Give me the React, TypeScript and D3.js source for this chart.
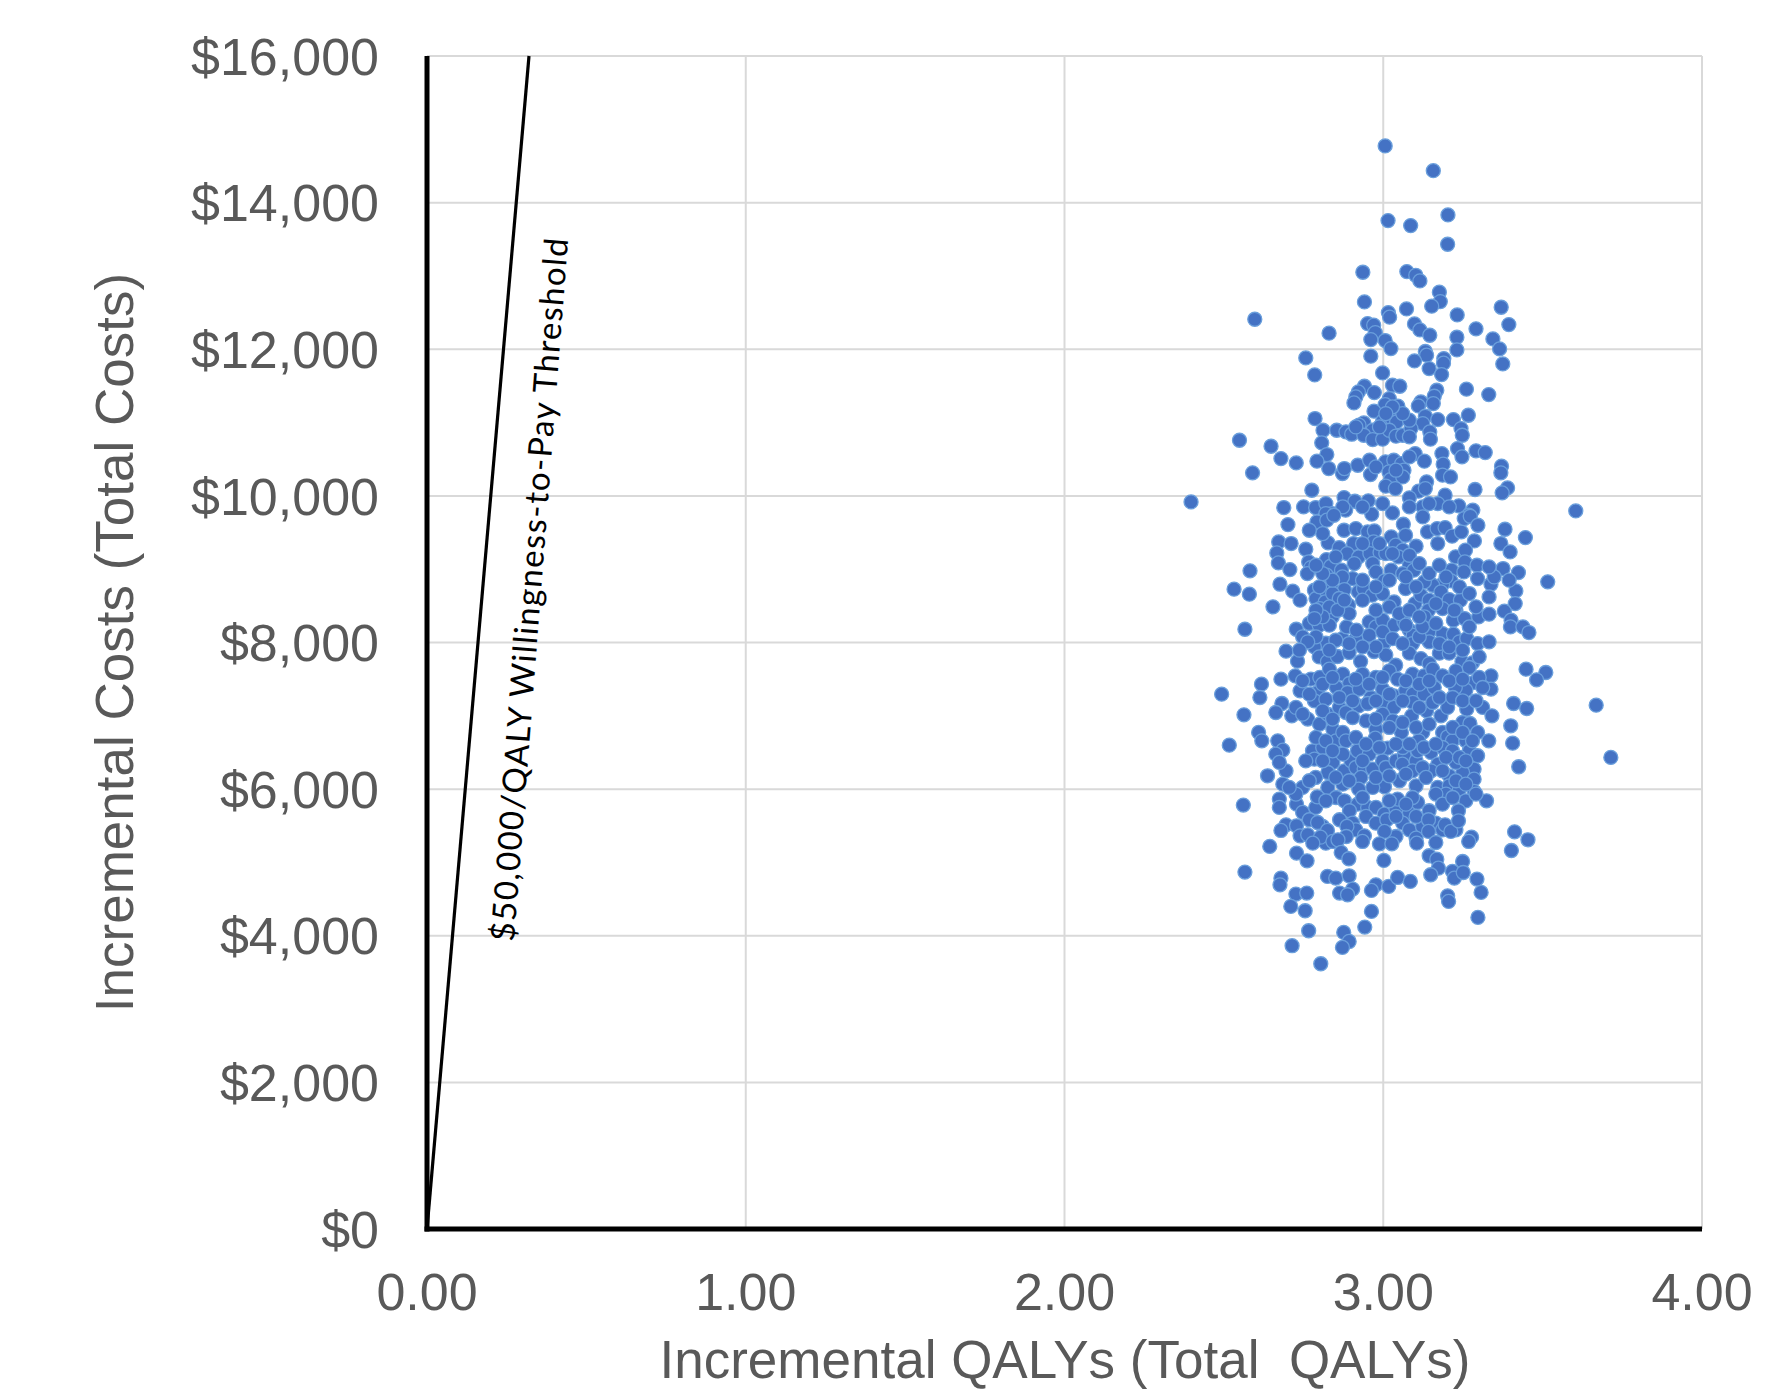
import React from 'react';
import * as d3 from 'd3';

// ---- Data (incremental QALYs, incremental cost in $) ----
const drawsAbove11800: [number, number][] = [
  [3.006,14773],[3.157,14436],[3.203,13832],[3.015,13755],[3.086,13687],[3.202,13432],[2.936,13050],[3.074,13059],
  [3.102,13009],[3.115,12932],[3.176,12778],[3.179,12650],[2.941,12646],[3.152,12587],[3.073,12550],[3.016,12500],
  [3.020,12437],[3.370,12573],[3.232,12468],[2.597,12409],[3.394,12337],[2.951,12350],[2.970,12328],[3.098,12346],
  [3.115,12264],[3.291,12278],[3.146,12191],[2.830,12219],[2.975,12228],[2.961,12132],[3.006,12119],[3.231,12164],
  [3.344,12141],[3.024,12009],[3.231,11991],[3.365,12005],[3.132,11969],[3.136,11919],[2.757,11882],[2.961,11905],
  [3.190,11873],[3.098,11841],[3.375,11800],[3.189,11810],
];

const draws9700to11800: [number, number][] = [
  [3.144,11736],[3.183,11655],[2.785,11650],[2.998,11677],[3.029,11509],[3.052,11495],[2.941,11495],[2.922,11418],
  [2.972,11409],[2.914,11350],[2.908,11268],[3.168,11441],[3.160,11359],[3.261,11455],[3.331,11382],[3.019,11327],
  [3.006,11245],[3.046,11223],[3.118,11282],[3.110,11227],[3.157,11259],[2.971,11155],[3.132,11086],[3.171,11041],
  [3.267,11100],[3.220,11041],[2.786,11055],[2.998,11018],[3.029,11041],[3.042,11009],[2.939,10995],[2.924,10964],
  [3.124,10986],[3.244,10918],[2.811,10895],[2.854,10895],[2.883,10873],[2.901,10841],[2.967,10895],[2.939,10827],
  [2.967,10768],[2.998,10773],[3.019,10895],[3.040,10814],[3.061,10827],[3.087,10918],[3.082,10805],[3.146,10873],
  [3.148,10773],[3.248,10827],[2.549,10759],[2.648,10677],[2.807,10723],[2.823,10564],[2.679,10509],[2.727,10450],
  [2.590,10314],[2.792,10473],[2.829,10373],[2.872,10305],[2.878,10373],[2.920,10418],[2.957,10486],[2.960,10291],
  [3.007,10464],[3.033,10486],[3.058,10441],[3.065,10350],[3.018,10327],[3.023,10223],[3.061,10259],[3.008,10132],
  [3.038,10100],[3.100,10577],[3.129,10473],[3.184,10577],[3.188,10432],[3.186,10282],[3.211,10259],[3.233,10645],
  [3.247,10532],[3.291,10614],[3.320,10591],[3.371,10405],[3.369,10314],[3.136,10191],[3.111,10064],[3.082,9973],
  [3.132,10100],[3.194,10009],[3.288,10087],[3.390,10109],[3.373,10041],[2.776,10077],[2.397,9918],[2.688,9841],
  [2.750,9850],[2.788,9841],[2.820,9895],[2.877,9977],[2.911,9927],[2.953,9932],[2.840,9759],[2.882,9805],
  [2.964,9750],[3.029,9768],[3.124,9850],[3.171,9895],[3.237,9864],[3.281,9805],[3.268,9736],[3.604,9795],
  [2.988,10941],[3.082,11032],[3.061,11123],[3.029,11214],[3.008,11123],[2.977,10395],[3.040,10350],[3.082,10532],
  [2.914,10941],[2.873,9850],[2.935,9850],[2.998,9895],[3.082,9850],[3.144,9895],[3.207,9850],[2.820,9759],
];

const draws7700to9700: [number, number][] = [
  [3.124,9713],[2.701,9609],[2.792,9645],[2.823,9668],[2.845,9736],[2.877,9531],[2.914,9554],[2.951,9509],
  [2.972,9522],[2.970,9372],[3.063,9613],[3.025,9440],[3.070,9463],[3.139,9509],[3.169,9554],[3.194,9568],
  [3.171,9350],[3.216,9450],[3.245,9509],[3.254,9690],[3.273,9722],[3.297,9599],[3.286,9386],[3.382,9545],
  [3.369,9350],[3.398,9236],[3.446,9431],[2.672,9372],[2.711,9350],[2.757,9272],[2.666,9222],[2.671,9086],
  [2.707,8995],[2.582,8977],[2.766,9099],[2.773,9022],[2.762,8940],[2.827,9359],[2.862,9295],[2.907,9350],
  [2.887,9213],[2.923,9168],[2.909,9077],[2.822,9131],[2.835,9040],[2.869,8986],[2.822,8918],[2.904,8872],
  [2.872,8895],[2.958,9213],[2.990,9227],[3.008,9213],[3.039,9327],[3.061,9259],[3.048,9168],[3.103,9313],
  [3.082,9054],[2.967,9077],[2.977,8963],[3.025,8986],[3.004,8840],[3.061,8940],[3.096,8986],[3.227,9168],
  [3.258,9259],[3.256,9099],[3.215,8986],[3.253,8963],[3.294,9054],[3.296,8872],[3.347,8963],[3.376,9009],
  [3.424,8954],[3.338,8795],[3.516,8827],[3.213,8840],[3.186,8795],[3.155,8781],[3.129,8827],[3.070,8736],
  [2.532,8727],[2.580,8659],[2.676,8795],[2.716,8700],[2.739,8577],[2.654,8486],[2.784,8713],[2.789,8600],
  [2.820,8713],[2.851,8690],[2.878,8722],[2.818,8554],[2.801,8463],[2.872,8486],[2.891,8509],[2.840,8350],
  [2.922,8690],[2.938,8736],[2.965,8645],[2.998,8668],[3.034,8554],[3.100,8531],[3.118,8645],[3.144,8577],
  [3.142,8440],[3.129,8350],[3.181,8690],[3.207,8586],[3.242,8577],[3.186,8463],[3.228,8440],[3.220,8304],
  [3.255,8327],[3.416,8704],[3.414,8531],[3.299,8350],[3.332,8386],[3.380,8427],[3.401,8304],[3.399,8213],
  [3.438,8213],[3.457,8136],[2.566,8181],[2.727,8181],[2.747,8077],[2.768,8259],[2.799,8236],[2.831,8236],
  [2.872,8054],[2.885,8213],[2.914,8054],[2.820,7990],[2.956,8281],[2.977,8213],[2.998,8304],[2.956,8099],
  [3.003,7995],[3.034,8236],[3.065,8281],[3.082,8168],[3.094,8099],[3.092,7986],[3.144,8145],[3.144,8009],
  [3.186,8122],[3.220,8113],[3.239,8009],[3.262,8054],[3.296,7986],[3.332,8009],[2.695,7882],[2.731,7745],
  [2.784,7941],[2.799,7804],[2.825,7740],[2.856,7809],[2.893,7863],[2.929,7740],[2.971,7877],[3.008,7831],
  [3.039,7690],[3.082,7854],[3.118,7781],[3.144,7713],[3.176,7854],[3.207,7854],[3.247,7740],[3.280,7722],
  [3.301,7804],
];

const drawsDenseCoreUpper: [number, number][] = [
  [2.841,8668],[2.862,8600],[2.831,8486],[2.893,8395],[2.857,8440],[2.878,8577],[2.810,8350],[2.789,8440],
  [2.784,8327],[2.935,8577],[2.977,8440],[3.019,8486],[3.050,8395],[3.071,8236],[2.998,8145],[3.029,8054],
  [2.977,7940],[2.935,7940],[2.893,7986],[2.851,8031],[2.789,8077],[2.763,8009],[2.737,7895],[2.831,7895],
  [2.916,8168],[3.061,7986],[3.113,8077],[3.123,8213],[3.165,8259],[3.176,7986],[3.207,7940],[3.249,7895],
  [3.270,8213],[3.223,8440],[3.165,8531],[3.082,8440],[3.113,8350],[3.103,8759],[3.071,8895],[3.019,8850],
  [2.977,8759],[2.935,8850],[2.841,8850],[2.800,8759],[2.810,8940],[2.789,9054],[2.851,9168],[2.988,9350],
  [3.029,9213],[3.082,9190],[3.113,9077],[3.144,8940],[3.176,9054],[3.197,8895],[3.239,8759],[3.270,8668],
  [3.291,8486],[3.332,8622],[3.348,8895],[3.395,8850],[3.332,9031],[2.935,9350],[2.810,9486],[2.768,9531],
];

const draws5600to7700: [number, number][] = [
  [3.448,7636],[3.510,7591],[3.481,7491],[3.668,7145],[3.714,6432],[2.493,7295],[2.618,7432],[2.613,7250],
  [2.679,7500],[2.724,7545],[2.773,7500],[2.801,7523],[2.831,7636],[2.873,7568],[2.894,7441],[2.935,7568],
  [2.977,7523],[3.019,7614],[3.045,7500],[3.092,7568],[3.128,7545],[3.155,7636],[3.186,7545],[3.228,7614],
  [3.270,7659],[3.338,7545],[3.338,7364],[3.285,7455],[3.259,7350],[3.226,7386],[2.739,7341],[2.794,7318],
  [2.853,7386],[2.888,7318],[2.925,7364],[2.961,7250],[2.998,7364],[3.033,7273],[3.070,7341],[3.093,7295],
  [3.128,7295],[3.160,7386],[2.682,7168],[2.663,7045],[2.713,7000],[2.763,6955],[2.800,6886],[2.784,7205],
  [2.825,7023],[2.862,7114],[2.883,7045],[2.923,7136],[2.951,7168],[2.998,7159],[3.033,7114],[2.946,6932],
  [2.998,7023],[3.030,6932],[3.093,7182],[3.089,7000],[3.136,7068],[3.155,7182],[3.181,7000],[3.202,7114],
  [3.262,7091],[3.312,7114],[3.341,7000],[3.249,6909],[3.272,6895],[3.409,7168],[3.450,7100],[3.400,6864],
  [3.406,6627],[3.425,6305],[2.563,7014],[2.609,6773],[2.619,6659],[2.517,6600],[2.669,6659],[2.685,6532],
  [2.663,6477],[2.695,6250],[2.674,6364],[2.637,6182],[2.685,6068],[2.842,6818],[2.852,6659],[2.873,6773],
  [2.778,6523],[2.784,6409],[2.810,6568],[2.842,6364],[2.826,6227],[2.788,6159],[2.757,6386],[2.878,6250],
  [2.899,6386],[2.919,6523],[2.914,6295],[2.940,6273],[2.930,6159],[2.967,6273],[2.977,6818],[2.975,6695],
  [3.014,6559],[2.956,6477],[2.998,6386],[3.008,6295],[3.040,6386],[3.066,6455],[3.060,6341],[3.103,6386],
  [3.092,6250],[3.124,6773],[3.111,6659],[3.057,6773],[3.061,6568],[3.108,6523],[3.150,6500],[3.171,6341],
  [3.150,6250],[3.186,6773],[3.202,6714],[3.217,6659],[3.186,6568],[3.217,6523],[3.259,6659],[3.270,6523],
  [3.296,6773],[3.331,6659],[3.296,6455],[3.285,6273],[3.249,6227],[3.228,6364],[3.285,6136],[3.207,6182],
  [3.171,6023],[3.207,6045],[3.239,6000],[3.285,5968],[3.324,5841],[3.259,5841],[3.197,5932],[3.165,5932],
  [3.103,6045],[3.051,6114],[3.004,6032],[2.967,6023],[2.923,6000],[2.873,6068],[2.826,6023],[2.747,6023],
  [2.674,5864],[2.561,5782],[2.674,5750],[2.728,5795],[2.747,5682],[2.788,5750],[2.793,5895],[2.852,5886],
  [2.878,5841],[2.920,5795],[2.894,5705],[2.951,5750],[2.977,5750],[3.003,5659],[3.040,5727],[3.082,5682],
  [3.108,5818],[3.144,5705],[3.236,5705],[3.045,5864],[3.092,5886],
];

const drawsDenseCoreLower: [number, number][] = [
  [2.747,7477],[2.810,7432],[2.841,7523],[2.914,7500],[2.956,7432],[2.998,7523],[3.071,7477],[3.113,7432],
  [3.144,7477],[3.207,7477],[3.249,7500],[3.301,7523],[3.312,7386],[2.768,7295],[2.820,7227],[2.862,7250],
  [2.904,7205],[2.977,7205],[3.019,7295],[3.061,7205],[3.113,7114],[3.176,7250],[3.218,7250],[3.249,7205],
  [3.291,7205],[2.726,7114],[2.747,7023],[2.810,7068],[2.841,6955],[2.904,6977],[2.977,6955],[3.019,6841],
  [3.061,6909],[3.103,6841],[3.144,6886],[3.218,6841],[3.249,6773],[3.280,6659],[2.789,6705],[2.820,6659],
  [2.883,6659],[2.914,6705],[2.946,6614],[2.988,6568],[3.040,6614],[3.082,6614],[3.128,6568],[3.165,6614],
  [3.197,6432],[3.239,6432],[3.259,6386],[2.873,6477],[2.841,6523],[2.810,6386],[2.935,6386],[2.977,6159],
  [3.019,6182],[3.071,6205],[3.123,6295],[3.134,6159],[3.186,6250],[3.228,6114],[3.259,6068],[2.851,6159],
  [2.893,6114],[2.768,6114],[2.726,5932],[2.705,6023],[2.820,5841],[2.935,5886],[3.019,5841],[3.071,5795],
  [3.186,5795],[3.218,5886],[3.291,5932],[2.768,5582],[2.810,5491],[2.904,5536],[2.914,5445],[3.061,5536],
  [3.082,5445],[3.123,5491],[3.165,5536],[3.228,5445],[2.820,5263],[3.040,5354],
];

const drawsBelow5600: [number, number][] = [
  [2.695,5513],[2.728,5500],[2.679,5436],[2.739,5363],[2.763,5377],[2.794,5545],[2.825,5436],[2.803,5345],
  [2.779,5263],[2.842,5286],[2.863,5582],[2.886,5491],[2.884,5354],[2.858,5309],[2.946,5627],[2.977,5536],
  [3.011,5582],[3.040,5627],[2.941,5363],[2.935,5286],[3.004,5423],[2.988,5254],[3.027,5254],[3.103,5627],
  [3.142,5582],[3.103,5332],[3.105,5263],[3.142,5423],[3.186,5445],[3.194,5513],[3.212,5423],[3.236,5568],
  [3.165,5272],[3.277,5345],[3.268,5286],[3.412,5418],[3.454,5309],[3.402,5163],[2.644,5218],[2.728,5127],
  [2.761,5022],[2.566,4868],[2.868,5136],[2.892,5050],[3.002,5027],[3.144,5091],[3.168,5045],[3.249,5013],
  [3.173,4922],[3.149,4832],[3.217,4877],[3.223,4786],[3.251,4863],[3.294,4773],[3.307,4591],[3.202,4545],
  [3.205,4468],[3.297,4250],[2.825,4809],[2.851,4786],[2.893,4818],[2.904,4636],[2.863,4582],[2.888,4559],
  [2.679,4786],[2.676,4695],[2.726,4568],[2.760,4582],[2.710,4400],[2.755,4341],[2.766,4068],[2.977,4695],
  [2.963,4618],[3.017,4673],[3.045,4795],[3.085,4741],[2.963,4332],[2.942,4118],[2.876,4045],[2.893,3922],
  [2.872,3841],[2.714,3864],[2.804,3618],
];

const xTicks = [0, 1, 2, 3, 4];
const yTicks = [0, 2000, 4000, 6000, 8000, 10000, 12000, 14000, 16000];
const wtpPerQaly = 50000;
const thresholdLabel = '$50,000/QALY Willingness-to-Pay Threshold';
const xTitle = 'Incremental QALYs (Total  QALYs)';
const yTitle = 'Incremental Costs (Total Costs)';

const W = 1773;
const H = 1397;
const PL = 427, PR = 1702, PT = 56, PB = 1229;

export default function App() {
  const x = d3.scaleLinear().domain([0, 4]).range([PL, PR]);
  const y = d3.scaleLinear().domain([0, 16000]).range([PB, PT]);
  const draws = [
    ...drawsAbove11800,
    ...draws9700to11800,
    ...draws7700to9700,
    ...drawsDenseCoreUpper,
    ...draws5600to7700,
    ...drawsDenseCoreLower,
    ...drawsBelow5600,
  ];
  const fmtY = d3.format('$,.0f');
  const fmtX = d3.format('.2f');
  const line = d3.line<[number, number]>().x(d => x(d[0])).y(d => y(d[1]));
  const thr: [number, number][] = [[0, 0], [16000 / wtpPerQaly, 16000]];
  const labelFont = 'Liberation Sans, Arial, sans-serif';
  const grey = '#595959';

  return (
    <svg width={W} height={H} style={{ position: 'absolute', left: 0, top: 0, background: '#fff' }}>
      <rect x={0} y={0} width={W} height={H} fill="#fff" />
      {/* gridlines */}
      {yTicks.filter(t => t > 0).map(t => (
        <line key={'gy' + t} x1={PL} x2={PR} y1={y(t)} y2={y(t)} stroke="#d9d9d9" strokeWidth={2} />
      ))}
      {xTicks.filter(t => t > 0).map(t => (
        <line key={'gx' + t} x1={x(t)} x2={x(t)} y1={PT} y2={PB} stroke="#d9d9d9" strokeWidth={2} />
      ))}
      {/* points */}
      {draws.map((d, i) => (
        <circle key={i} cx={x(d[0])} cy={y(d[1])} r={7} fill="#4472c4" stroke="#6a9fdc" strokeWidth={1.3} />
      ))}
      {/* threshold line */}
      <path d={line(thr) || ''} fill="none" stroke="#000" strokeWidth={3.2} />
      {/* axes */}
      <line x1={PL} x2={PL} y1={PT} y2={PB + 2.5} stroke="#000" strokeWidth={5} />
      <line x1={PL - 2.5} x2={PR} y1={PB} y2={PB} stroke="#000" strokeWidth={5} />
      {/* y tick labels */}
      {yTicks.map(t => (
        <text key={'ty' + t} x={379} y={y(t)} dy="0.36em" textAnchor="end" fontFamily={labelFont} fontSize={52} fill={grey}>
          {fmtY(t)}
        </text>
      ))}
      {/* x tick labels */}
      {xTicks.map(t => (
        <text key={'tx' + t} x={x(t)} y={1310} textAnchor="middle" fontFamily={labelFont} fontSize={52} fill={grey}>
          {fmtX(t)}
        </text>
      ))}
      {/* axis titles */}
      <text x={1065} y={1378} textAnchor="middle" fontFamily={labelFont} fontSize={53} fill={grey} xmlSpace="preserve" style={{ whiteSpace: 'pre' }}>
        {xTitle}
      </text>
      <text transform={`translate(133, ${(PT + PB) / 2}) rotate(-90)`} textAnchor="middle" fontFamily={labelFont} fontSize={53} fill={grey}>
        {yTitle}
      </text>
      {/* threshold label */}
      <text transform="translate(514, 942) rotate(-85.6)" fontFamily="Lato, 'Open Sans', sans-serif" fontSize={33} fill="#000" textLength={705} lengthAdjust="spacing">
        {thresholdLabel}
      </text>
    </svg>
  );
}
